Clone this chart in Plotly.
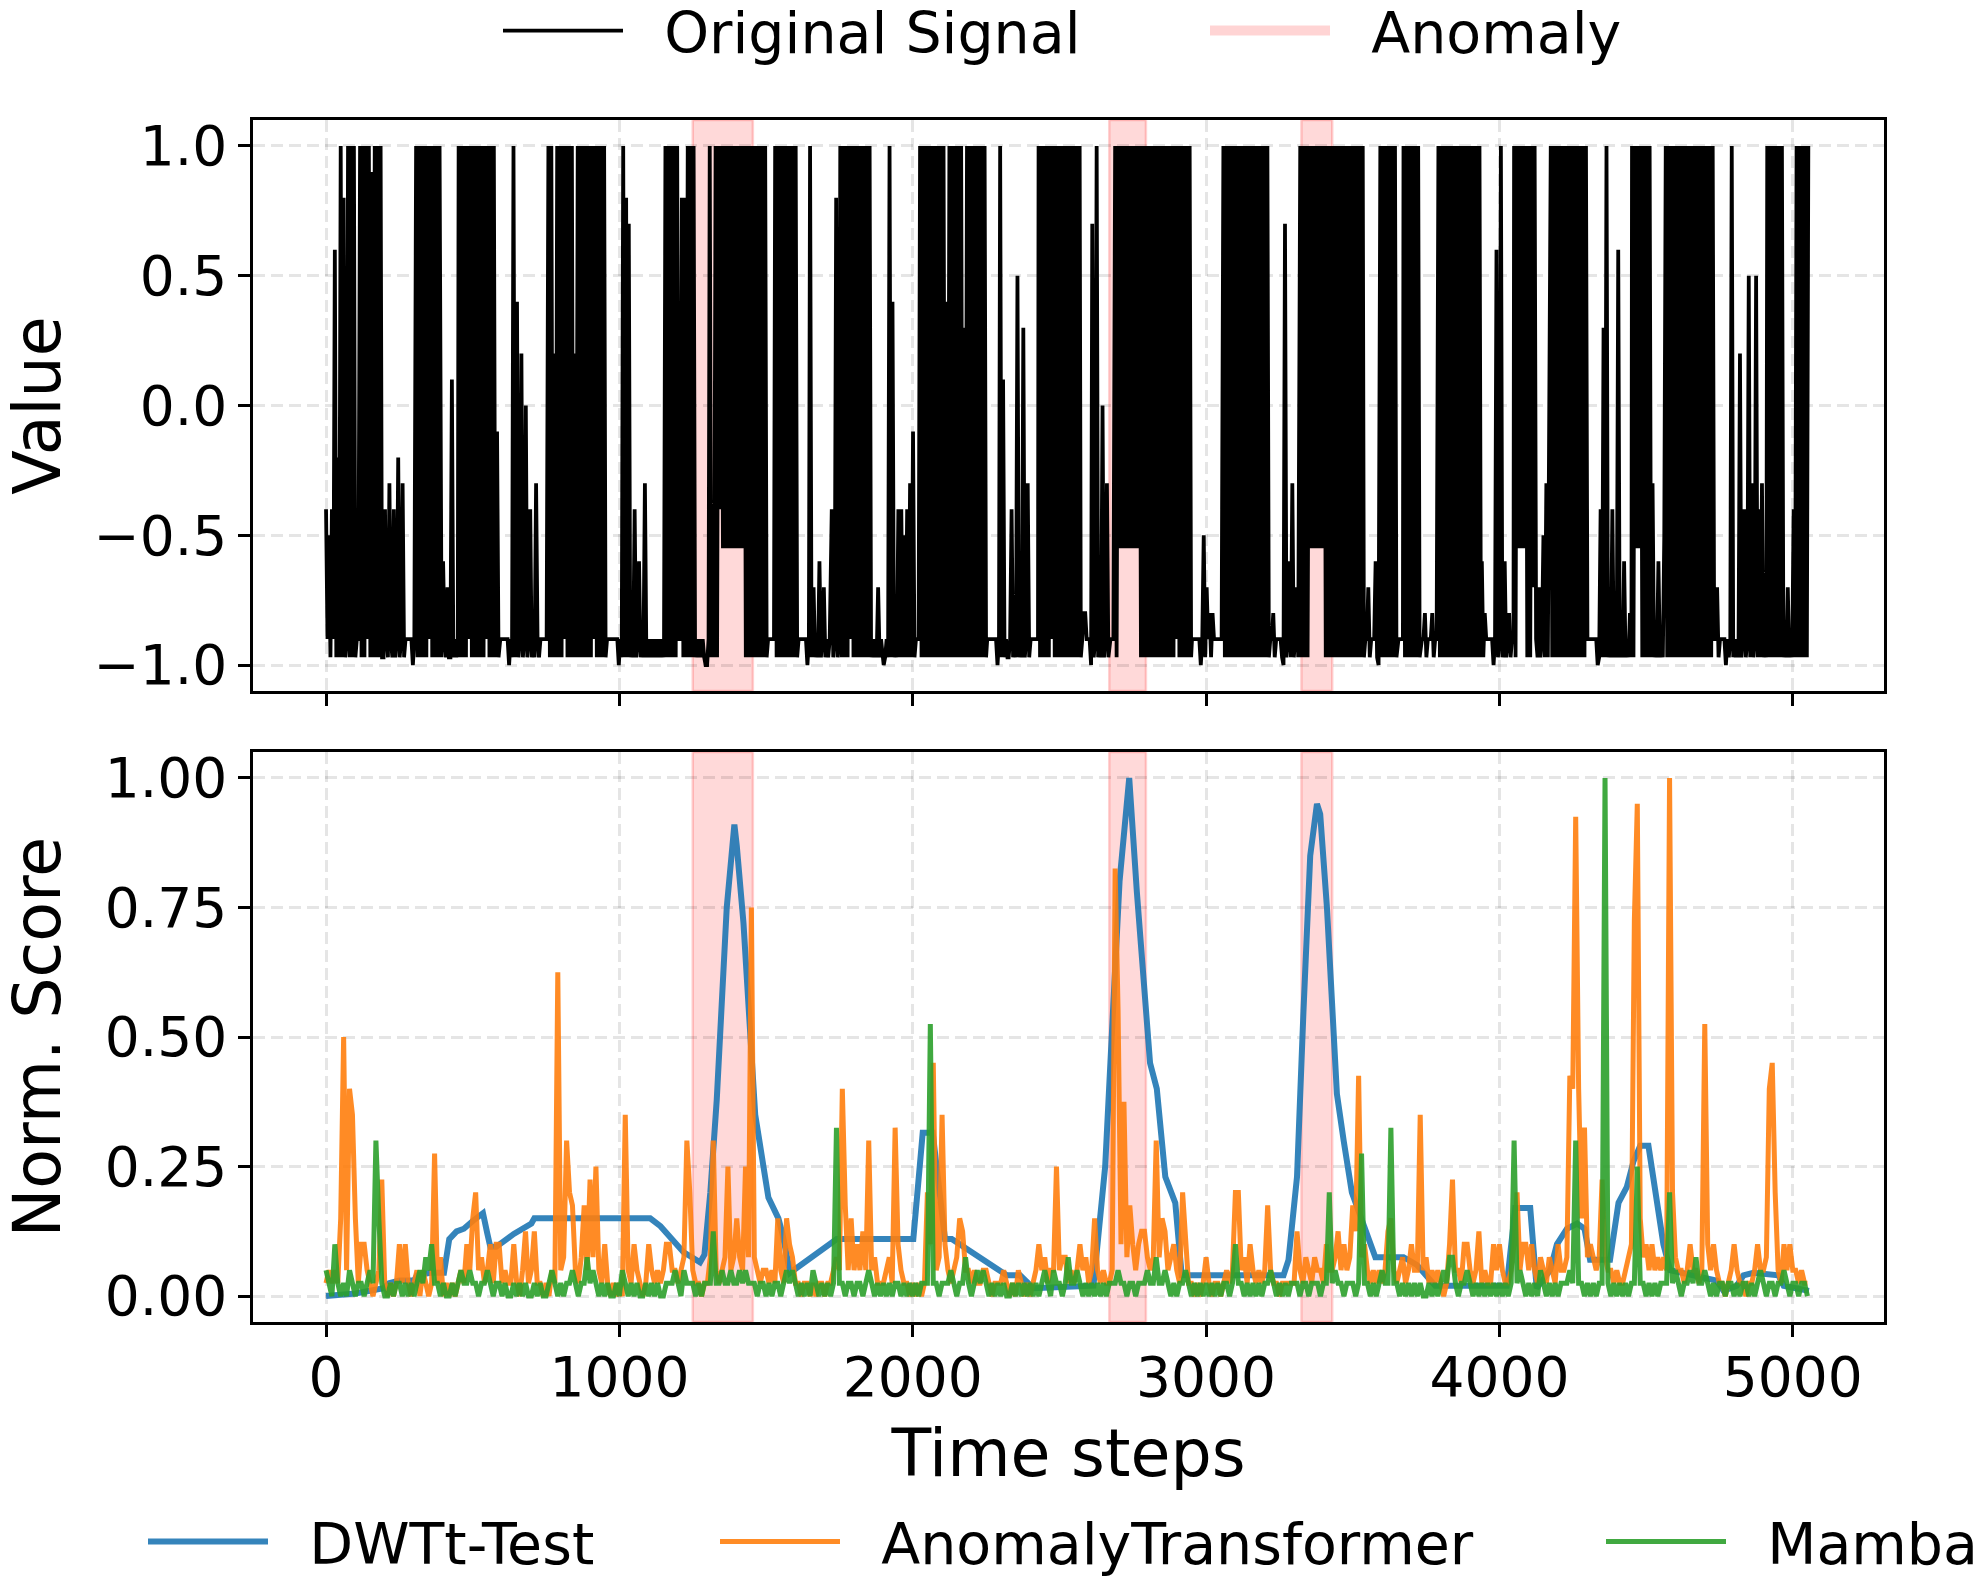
import plotly.graph_objects as go

W, H = 1982, 1576
FONT = "DejaVu Sans"

# ---------------- data ----------------
# Original signal: each code letter is one sample every SIGNAL_STEP time steps,
# segments start at the given time step.
SIGNAL_STEP = 5
SIGNAL_LEVELS = {"A": -1.0, "a": -0.97, "B": -0.9, "C": -0.8, "D": -0.7, "E": -0.6,
                 "c": -0.55, "F": -0.5, "G": -0.4, "H": -0.3, "I": -0.2, "J": -0.1,
                 "K": 0.0, "L": 0.1, "M": 0.2, "N": 0.3, "O": 0.4, "P": 0.5, "Q": 0.6,
                 "R": 0.7, "S": 0.8, "T": 0.9, "U": 1.0}
SIGNAL_SEGMENTS = [
    (0, "GBFaGB"), (30, "Qa"), (40, "IaUaSaBUaUaUa"), (105, "BB"),
    (116, "UaUaUBUaTaUaUaUa"), (196, "aGBaHBaGaBIaBHaB"), (276, "BBBBAB"),
    (307, "UaUaUaUaUBUaUaUaU"), (394, "aEBaDa"), (424, "aLa"), (439, "BaB"),
    (452, "UaUaUaUBUaUaUaUaUaUBUaUaUa"), (583, "Ja"), (594, "BBBBBBAB"),
    (634, "aUa"), (651, "OaBMaBKaBGaBaHBaBB"), (742, "BBB"),
    (758, "UaUaMaUaUaUBUaUaUaMaUaUa"), (878, "UaUaUaUBUaUaUaUa"),
    (958, "BBBBBBBBAB"), (1008, "aUaS"), (1027, "aRaBaGaBEaBaHaBa"),
    (1107, "BaBaBaBaBa"), (1157, "UaUaUaUaU"), (1202, "BB"), (1213, "SaSaUaUaUa"),
    (1264, "BaBaBaAAB"), (1308, "UacaU"), (1333, "aUGUc"), (1358, "UcUcUcUcUcUcUc"),
    (1426, "UaUaUa"), (1457, "UaUaUaUaU"), (1502, "aBBBBB"), (1531, "UaUaUaUaUaUaUaU"),
    (1606, "aBBBBBBAB"), (1650, "Ua"), (1662, "DaBaEaBDaBaB"), (1724, "GaBSaB"),
    (1753, "UaUaUaUBUaUaUaUaUaUaUa"), (1862, "BaBaDaBa"), (1901, "AaBaUaOaBa"),
    (1951, "GaGaFaGaHaJaB"), (2015, "BB"),
    (2025, "UaUaUaUaUa" "UaUaUaUaOa" "UaUaUaUaUa" "NaUaUaUaUa" "UaUaUa"),
    (2254, "BBBBBBBAB"), (2298, "UaLaBa"), (2327, "aBGaBaPaBaNaBHaB"), (2407, "BBBBB"),
    (2429, "UaUaUaUaUBUaUaUaUaUaUa"), (2539, "UaUaUaU"), (2573, "aBCCBBBA"),
    (2612, "RaBUaBaKaBHa"), (2674, "BBB"), (2690, "Ua"), (2701, "UcUcUcUcUcUcUc"),
    (2773, "UaUaUa"), (2804, "UaUaUaUaUa" "UaUaUaUaUB" "UaUaUaUaUa"),
    (2952, "BBBBBBAB"), (2992, "FaDBCaCBB"), (3038, "BBBB"),
    (3059, "UaUaUaUaUa" "UaUaUaUaUa" "UaUaUaUaUa" "Ua"), (3219, "BBCaBBBBa"),
    (3264, "ARaBEaHaBDa"), (3321, "UaUaUa"), (3353, "UcUcUcUcU"), (3398, "cUaUaUa"),
    (3434, "UaUaUaUaUa" "UaUaUaUaUa" "U"), (3538, "aBBDaBBBEaA"), (3594, "UaUaUaUaUaUa"),
    (3656, "BBBB"), (3673, "UaUaUaUaUaUa"), (3736, "BBCaBBBCaBB"),
    (3792, "UaUaUaUaUa" "UaUaUaUaUa" "UaUaUaUaUa"), (3940, "EaCB"), (3960, "BBBBAB"),
    (3990, "QaBUaB"), (4018, "EaBCaBB"), (4050, "Ua"), (4060, "UcUcUcU"),
    (4095, "aUaUDU"), (4125, "BaDaB"), (4150, "FaHaK"),
    (4175, "UaUaUaUaUa" "UaUaUaUaUa" "UaUaU"), (4300, "BBBBBBBA"), (4340, "aGaNaUa"),
    (4375, "BaGaBaQaBaEaBaCa"), (4452, "Ua"), (4462, "UcUc"), (4482, "UaUaUaU"),
    (4517, "aHaBaEaBaF"), (4567, "UaUaUaUaUa" "UaUaUaUaUa" "UaUaUaUaUa" "UaU"),
    (4732, "BBDaBBBBAB"), (4782, "aBUa"), (4800, "BaBaMaBGaBPaHaBPaGaHaBa"),
    (4913, "UaUaUaUaUaU"), (4968, "aBaDaBaGa"), (5013, "UaUaUaUaU"),
]

ANOMALY_START = [1250, 2670, 3325]
ANOMALY_END = [1455, 2795, 3430]

# DWTt-Test score (key points)
DWT_T = [0, 100, 196, 215, 250, 300, 310, 355, 402, 420, 445, 470, 500, 535, 550, 560,
         580, 640, 700, 710, 1105, 1140, 1218, 1275, 1290, 1310, 1332, 1366, 1392, 1400,
         1423, 1446, 1463, 1508, 1542, 1556, 1582, 1741, 2002, 2034, 2068, 2110, 2133,
         2321, 2366, 2412, 2616, 2656, 2680, 2705, 2738, 2764, 2809, 2832, 2861, 2895,
         2917, 3264, 3281, 3310, 3332, 3355, 3378, 3389, 3412, 3446, 3469, 3497, 3577,
         3673, 3719, 3781, 4025, 4054, 4105, 4127, 4173, 4196, 4230, 4265, 4290, 4309,
         4377, 4406, 4434, 4457, 4480, 4508, 4559, 4582, 4741, 4764, 4809, 4832, 4866,
         4951, 4969, 5055]
DWT_V = [0.0, 0.005, 0.015, 0.025, 0.03, 0.03, 0.04, 0.045, 0.045, 0.11, 0.125, 0.13,
         0.145, 0.16, 0.12, 0.095, 0.095, 0.12, 0.14, 0.15, 0.15, 0.135, 0.085, 0.065,
         0.08, 0.2, 0.38, 0.75, 0.91, 0.87, 0.72, 0.52, 0.35, 0.19, 0.15, 0.12, 0.045,
         0.11, 0.11, 0.315, 0.315, 0.11, 0.11, 0.04, 0.04, 0.015, 0.02, 0.25, 0.55, 0.8,
         1.0, 0.78, 0.45, 0.4, 0.23, 0.18, 0.04, 0.04, 0.07, 0.23, 0.55, 0.85, 0.95, 0.93,
         0.75, 0.39, 0.3, 0.2, 0.075, 0.075, 0.06, 0.02, 0.02, 0.17, 0.17, 0.015, 0.05,
         0.1, 0.13, 0.14, 0.13, 0.07, 0.07, 0.18, 0.21, 0.26, 0.29, 0.29, 0.1, 0.05, 0.03,
         0.01, 0.02, 0.04, 0.045, 0.04, 0.02, 0.01]

# AnomalyTransformer and Mamba scores: one code every SCORE_STEP steps,
# code k in SCORE_CODEBOOK means k * 0.025
SCORE_STEP = 10
SCORE_CODEBOOK = "0123456789abcdefghijklmnopqrstuvwxyzABCDE"
AT_CODES = (
    "121216k2ge614421012910101414101202101b130101012142"
    "68231" "24144" "12114" "10251" "25110" "1021p" "23c87" "21372" "93a21" "41010"
    "10e21" "42101" "42121" "24422" "123c8" "21101" "13c21" "23a23" "632a3" "u3212"
    "21216" "21643" "11011" "01011" "01123" "2g726" "24252" "c2311" "1231d" "42110"
    "10101" "84i23" "e4212" "36522" "12112" "21011" "12101" "02101" "01242" "3122a"
    "23312" "12423" "12621" "2112x" "m4f37" "42455" "323c3" "65234" "21841" "10101"
    "31011" "01212" "88231" "42121" "27211" "01111" "15213" "21322" "14223" "52423"
    "75h34" "21212" "12562" "12312" "422e2" "31212" "10149" "22144" "21251" "21142"
    "42112" "48244" "24213" "21321" "4223h" "gBg6d" "34323" "93221" "21123" "4tC63"
    "42423" "232E8" "32212" "42212" "l4242" "11012" "42110" "11242" "23gi8" "21424"
    "221211"
)
MAMBA_CODES = (
    "21041" "01021" "01101" "21c61" "00101" "10101" "01213" "24110" "10010" "12112"
    "11011" "21011" "01001" "01010" "01010" "01210" "10112" "10113" "12101" "01001"
    "02101" "01001" "01010" "01112" "10211" "10101" "11511" "21121" "12121" "11011"
    "01011" "01212" "10101" "02101" "0101d" "11011" "01101" "21010" "10101" "10101"
    "01011" "1l110" "11121" "01131" "01212" "10101" "01001" "01010" "10101" "21021"
    "10131" "12101" "01010" "10111" "21101" "10111" "21131" "12101" "01121" "01010"
    "10101" "01101" "41101" "01010" "11210" "10101" "11011" "01110" "11812" "11011"
    "101b1" "10101" "211d1" "10101" "01010" "01010" "12133" "10112" "10101" "01010"
    "10101" "c1210" "10102" "10101" "01112" "1c110" "10101" "1E101" "01010" "11a11"
    "01010" "11181" "21011" "21311" "21010" "11011" "01011" "01012" "10110" "11210"
    "110110"
)

X_TICKS = [0, 1000, 2000, 3000, 4000, 5000]
Y1_TICKS = [-1.0, -0.5, 0.0, 0.5, 1.0]
Y2_TICKS = [0.0, 0.25, 0.5, 0.75, 1.0]

# ---------------- decode ----------------
sig_x, sig_y = [], []
for start, codes in SIGNAL_SEGMENTS:
    for j, ch in enumerate(codes):
        sig_x.append(start + SIGNAL_STEP * j)
        sig_y.append(SIGNAL_LEVELS[ch])

def decode_scores(codes):
    xs = [SCORE_STEP * i for i in range(len(codes))]
    ys = [SCORE_CODEBOOK.index(c) * 0.025 for c in codes]
    return xs, ys

at_x, at_y = decode_scores(AT_CODES)
mb_x, mb_y = decode_scores(MAMBA_CODES)

# ---------------- figure ----------------
PX_L, PX_R = 253, 1884
TOP_T, TOP_B = 120, 691
BOT_T, BOT_B = 752, 1322
dom_x = [PX_L / W, PX_R / W]
dom_y1 = [1 - TOP_B / H, 1 - TOP_T / H]
dom_y2 = [1 - BOT_B / H, 1 - BOT_T / H]

PAD = "\u00a0\u00a0"  # gap between legend handle and label

fig = go.Figure()
fig.add_trace(go.Scatter(x=sig_x, y=sig_y, mode="lines", name=PAD + "Original Signal",
                         line=dict(color="black", width=3.8), xaxis="x", yaxis="y",
                         legend="legend"))
# legend handle for the anomaly shading (the shading itself is drawn as shapes)
fig.add_trace(go.Scatter(x=[None], y=[None], mode="lines", name=PAD + "Anomaly",
                         line=dict(color="rgba(255,0,0,0.17)", width=10),
                         xaxis="x", yaxis="y", legend="legend2", hoverinfo="skip"))
fig.add_trace(go.Scatter(x=DWT_T, y=DWT_V, mode="lines", name=PAD + "DWTt-Test",
                         line=dict(color="#1f77b4", width=6), opacity=0.9,
                         xaxis="x2", yaxis="y2", legend="legend3"))
fig.add_trace(go.Scatter(x=at_x, y=at_y, mode="lines", name=PAD + "AnomalyTransformer",
                         line=dict(color="#ff7f0e", width=5), opacity=0.9,
                         xaxis="x2", yaxis="y2", legend="legend4"))
fig.add_trace(go.Scatter(x=mb_x, y=mb_y, mode="lines", name=PAD + "Mamba",
                         line=dict(color="#2ca02c", width=5), opacity=0.9,
                         xaxis="x2", yaxis="y2", legend="legend5"))

shapes = []
for s, e in zip(ANOMALY_START, ANOMALY_END):
    for xr, yr in (("x", "y domain"), ("x2", "y2 domain")):
        shapes.append(dict(type="rect", xref=xr, yref=yr, x0=s, x1=e, y0=0, y1=1,
                           fillcolor="rgba(255,0,0,0.15)",
                           line=dict(color="rgba(255,0,0,0.18)", width=2.5),
                           layer="below"))

tickfont = dict(family=FONT, size=55, color="black")
grid = dict(showgrid=True, gridcolor="rgba(0,0,0,0.10)", gridwidth=2.5,
            griddash="12px,6px")
axis_common = dict(showline=True, linecolor="black", linewidth=2.7, mirror=True,
                   ticks="outside", ticklen=12, tickwidth=2.5, tickcolor="black",
                   zeroline=False, tickfont=tickfont, **grid)

leg_common = dict(orientation="h", xanchor="left", yanchor="middle",
                  font=dict(family=FONT, size=57, color="black"),
                  bgcolor="rgba(0,0,0,0)", itemwidth=120)

TOP_LEG_Y = 1 - 31 / H
BOT_LEG_Y = 1 - 1542 / H

fig.update_layout(
    width=W, height=H,
    margin=dict(l=0, r=0, t=0, b=0, autoexpand=False),
    paper_bgcolor="white", plot_bgcolor="white",
    font=dict(family=FONT, color="black"),
    shapes=shapes,
    xaxis=dict(domain=dom_x, anchor="y", range=[-249, 5311], tickvals=X_TICKS,
               showticklabels=False, **axis_common),
    yaxis=dict(domain=dom_y1, anchor="x", range=[-1.1, 1.1], tickvals=Y1_TICKS,
               tickformat=".1f",
               title=dict(text="Value", font=dict(family=FONT, size=65), standoff=38),
               **axis_common),
    xaxis2=dict(domain=dom_x, anchor="y2", matches="x", range=[-249, 5311],
                tickvals=X_TICKS, tickformat="d", ticklabelstandoff=-7,
                title=dict(text="Time steps", font=dict(family=FONT, size=65), standoff=23),
                **axis_common),
    yaxis2=dict(domain=dom_y2, anchor="x2", range=[-0.05, 1.05], tickvals=Y2_TICKS,
                tickformat=".2f",
                title=dict(text="Norm. Score", font=dict(family=FONT, size=65), standoff=30),
                **axis_common),
    legend=dict(x=498 / W, y=TOP_LEG_Y, **leg_common),
    legend2=dict(x=1205 / W, y=TOP_LEG_Y, **leg_common),
    legend3=dict(x=143 / W, y=BOT_LEG_Y, **leg_common),
    legend4=dict(x=715 / W, y=BOT_LEG_Y, **leg_common),
    legend5=dict(x=1601 / W, y=BOT_LEG_Y, **leg_common),
    showlegend=True,
)

fig.write_html("out.html")
